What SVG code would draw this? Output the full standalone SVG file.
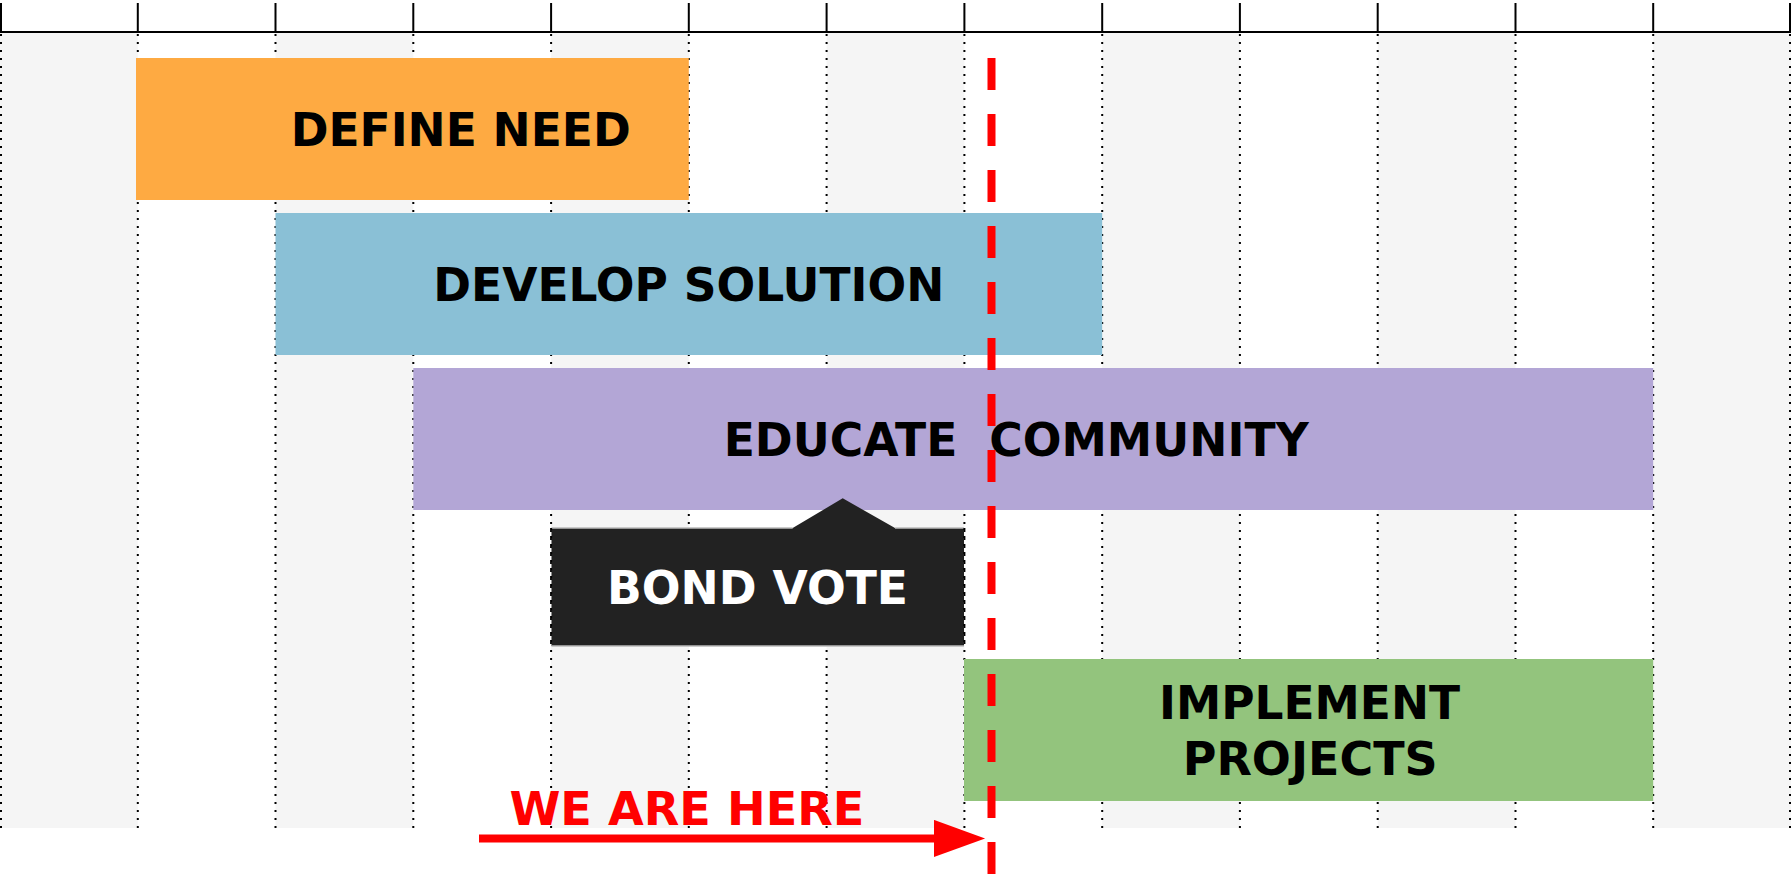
<svg xmlns="http://www.w3.org/2000/svg" width="1791" height="874" viewBox="0 0 1791 874">
<style>
.stripe{fill:#f5f5f5}
.grid{stroke:#000;stroke-width:2;stroke-dasharray:2 6;fill:none}
.tick{stroke:#000;stroke-width:2;fill:none}
.lbl{font-family:"DejaVu Sans","Liberation Sans",sans-serif;font-weight:bold;font-size:47px;fill:#000}
.white{fill:#fff}
.red{fill:#ff0000}
</style>
<defs>
<marker id="ah" markerUnits="userSpaceOnUse" markerWidth="52" markerHeight="38" refX="26.2" refY="18.6" orient="auto">
<path d="M0,0 L51.3,18.6 L0,37.3 Z" fill="#ff0000"/>
</marker>
</defs>
<rect width="1791" height="874" fill="#fff"/>
<g id="background">
<rect class="stripe" x="0" y="33" width="137.8" height="795"/>
<rect class="stripe" x="275.5" y="33" width="137.8" height="795"/>
<rect class="stripe" x="551.1" y="33" width="137.8" height="795"/>
<rect class="stripe" x="826.6" y="33" width="137.8" height="795"/>
<rect class="stripe" x="1102.2" y="33" width="137.8" height="795"/>
<rect class="stripe" x="1377.7" y="33" width="137.8" height="795"/>
<rect class="stripe" x="1653.2" y="33" width="137.8" height="795"/>
</g>
<g id="grid">
<path class="grid" d="M1,34V828M137.8,34V828M275.5,34V828M413.3,34V828M551.1,34V828M688.8,34V828M826.6,34V828M964.4,34V828M1102.2,34V828M1239.9,34V828M1377.7,34V828M1515.5,34V828M1653.2,34V828M1790,34V828"/>
</g>
<g id="axis">
<path class="tick" d="M0,32H1791"/>
<path class="tick" d="M1,3V32M137.8,3V32M275.5,3V32M413.3,3V32M551.1,3V32M688.8,3V32M826.6,3V32M964.4,3V32M1102.2,3V32M1239.9,3V32M1377.7,3V32M1515.5,3V32M1653.2,3V32M1790,3V32"/>
</g>
<g id="define-need">
<rect x="136" y="58" width="552.8" height="142" fill="#feaa42"/>
<text class="lbl" x="290.7" y="145.7" textLength="340" lengthAdjust="spacingAndGlyphs">DEFINE NEED</text>
</g>
<g id="develop-solution">
<rect x="275.5" y="213" width="826.7" height="142" fill="#8ac0d6"/>
<text class="lbl" x="433.3" y="301" textLength="511" lengthAdjust="spacingAndGlyphs">DEVELOP SOLUTION</text>
</g>
<g id="educate-community">
<rect x="413.3" y="368" width="1239.9" height="142" fill="#b3a6d6"/>
<text class="lbl" x="723.7" y="456" textLength="585" lengthAdjust="spacingAndGlyphs" xml:space="preserve" style="white-space:pre">EDUCATE  COMMUNITY</text>
</g>
<g id="bond-vote">
<path d="M551.5,528 H792.7 L842.7,498.3 L895,528 H964 V646 H551.5 Z" fill="#222"/>
<path d="M551.5,528H792.7M895,528H964M551.5,646H964" stroke="#bbb" stroke-width="1.5" fill="none"/>
<path class="grid" d="M551.1,528V646M964.4,528V646"/>
<text class="lbl white" x="607" y="604" textLength="301" lengthAdjust="spacingAndGlyphs">BOND VOTE</text>
</g>
<g id="implement-projects">
<rect x="964" y="659" width="689.2" height="142" fill="#93c47d"/>
<text class="lbl" x="1159" y="718.7" textLength="301" lengthAdjust="spacingAndGlyphs">IMPLEMENT</text>
<text class="lbl" x="1182.7" y="775.3" textLength="255" lengthAdjust="spacingAndGlyphs">PROJECTS</text>
</g>
<g id="connectors">
<path d="M991.5,58V874" stroke="#ff0000" stroke-width="8" stroke-dasharray="32 24" fill="none"/>
<path d="M479,838.4H960" stroke="#ff0000" stroke-width="8" fill="none" marker-end="url(#ah)"/>
</g>
<g id="we-are-here">
<text class="lbl red" x="509.4" y="825.3" textLength="355" lengthAdjust="spacingAndGlyphs">WE ARE HERE</text>
</g>
</svg>
